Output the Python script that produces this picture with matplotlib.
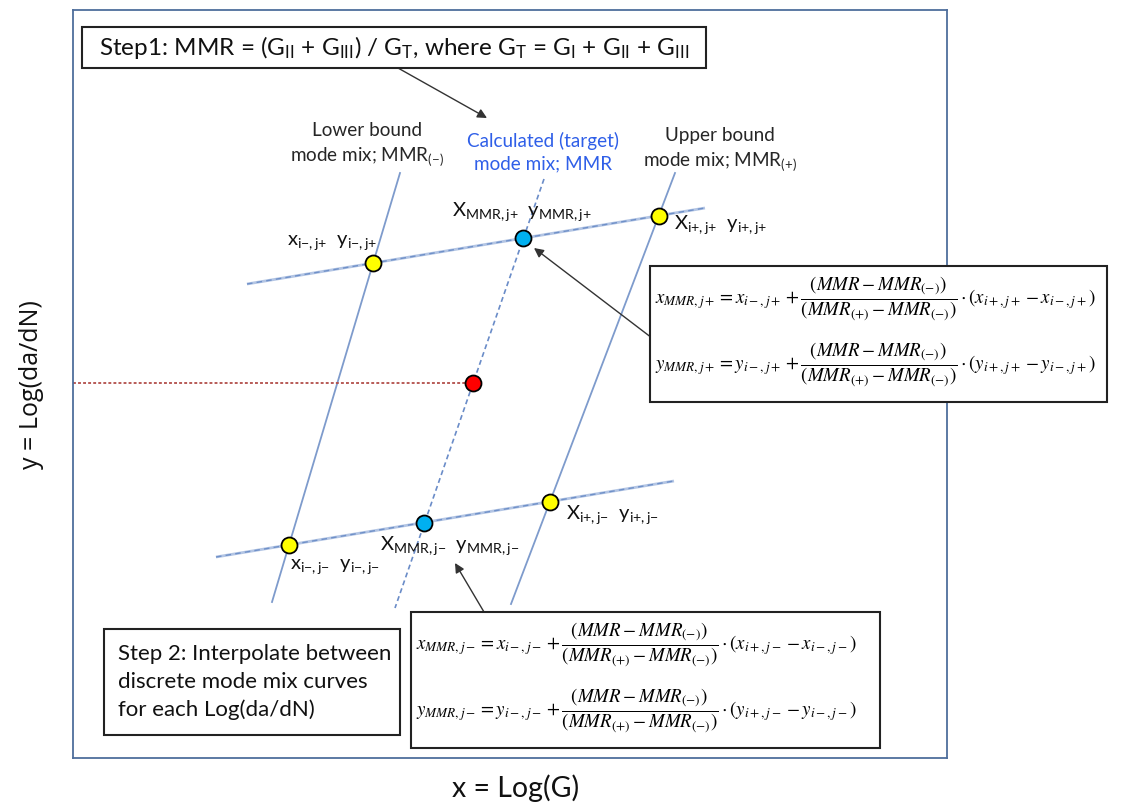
import matplotlib
matplotlib.use("Agg")
import matplotlib.pyplot as plt
from matplotlib.patches import Rectangle

plt.rcParams["font.family"] = ["Lato", "DejaVu Sans"]
plt.rcParams["mathtext.fontset"] = "custom"
plt.rcParams["mathtext.rm"] = "Lato"
plt.rcParams["mathtext.it"] = "Lato:italic"
plt.rcParams["mathtext.bf"] = "Lato:bold"

# ---- diagram data (x = Log(G), y = Log(da/dN), arbitrary units) ----
# discrete mode-mix curves: lower bound, target (interpolated), upper bound
lower_bound_x = [3.27, 1.99]
lower_bound_y = [5.85, 1.56]
target_x = [4.71, 3.22]
target_y = [5.79, 1.50]
upper_bound_x = [6.02, 4.38]
upper_bound_y = [5.85, 1.54]

# constant crack-growth-rate levels j+ and j-
level_jp_x = [1.74, 6.32]
level_jp_y = [4.74, 5.50]
level_jm_x = [1.43, 6.01]
level_jm_y = [2.01, 2.77]

# intersection points on the bound curves
bound_pts_x = [3.00, 5.86, 2.16, 4.77]
bound_pts_y = [4.95, 5.42, 2.13, 2.56]
# interpolated target points
target_pts_x = [4.50, 3.51]
target_pts_y = [5.20, 2.35]
# final interpolated point at the requested Log(da/dN)
result_x = 4.00
result_y = 3.75

XLIM = (0, 8.74)
YLIM = (0, 7.48)

fig = plt.figure(figsize=(11.22, 8.08), dpi=100)
ax = fig.add_axes([73 / 1122, 50 / 808, 874 / 1122, 748 / 808])
ax.set_xlim(*XLIM)
ax.set_ylim(*YLIM)
ax.set_xticks([])
ax.set_yticks([])
for sp in ax.spines.values():
    sp.set_color("#4e6e9c")
    sp.set_linewidth(1.3)

line_col = "#7e9bcc"
# bound curves
ax.plot(lower_bound_x, lower_bound_y, color=line_col, lw=1.3, zorder=2)
ax.plot(upper_bound_x, upper_bound_y, color=line_col, lw=1.3, zorder=2)
ax.plot(target_x, target_y, color="#6a8cc8", lw=1.2, ls=(0, (3, 2)), zorder=2)
# da/dN levels
for lx, ly in [(level_jp_x, level_jp_y), (level_jm_x, level_jm_y)]:
    ax.plot(lx, ly, color="#b3c5e4", lw=2.0, zorder=2, solid_capstyle="butt")
    ax.plot(lx, ly, color="#6f90c8", lw=1.0, ls=(0, (4, 3)), zorder=2)

# horizontal guide to the y axis
ax.plot([XLIM[0], result_x], [result_y, result_y], color="#b24e4a", lw=1.3,
        ls=(0, (1.6, 1.2)), zorder=2)

ms = 11.5
ax.plot(bound_pts_x, bound_pts_y, "o", ms=ms, mfc="#ffff00", mec="black", mew=1.3, zorder=5)
ax.plot(target_pts_x, target_pts_y, "o", ms=ms, mfc="#00b0f0", mec="black", mew=1.3, zorder=5)
ax.plot([result_x], [result_y], "o", ms=ms, mfc="#ff0000", mec="black", mew=1.3, zorder=5)

# ---- curve captions ----
cap_fs = 13.6
ax.text(2.94, 6.13, "Lower bound\nmode mix; MMR$_{\\mathrm{({-})}}$", ha="center", va="center",
        fontsize=cap_fs, linespacing=1.35, color="#262626")
ax.text(4.70, 6.06, "Calculated (target)\nmode mix; MMR", ha="center", va="center",
        fontsize=cap_fs, linespacing=1.35, color="#2f5fe8")
ax.text(6.47, 6.08, "Upper bound\nmode mix; MMR$_{\\mathrm{({+})}}$", ha="center", va="center",
        fontsize=cap_fs, linespacing=1.35, color="#262626")

# ---- point labels ----
lab_fs = 14.5
pt_labels = [
    (2.14, 5.15, r"x$_{\mathrm{i{-},j{+}}}$  y$_{\mathrm{i{-},j{+}}}$"),
    (3.79, 5.46, r"X$_{\mathrm{MMR,j{+}}}$  y$_{\mathrm{MMR,j{+}}}$"),
    (6.01, 5.33, r"X$_{\mathrm{i{+},j{+}}}$  y$_{\mathrm{i{+},j{+}}}$"),
    (4.93, 2.43, r"X$_{\mathrm{i{+},j{-}}}$  y$_{\mathrm{i{+},j{-}}}$"),
    (3.07, 2.12, r"X$_{\mathrm{MMR,j{-}}}$  y$_{\mathrm{MMR,j{-}}}$"),
    (2.17, 1.91, r"x$_{\mathrm{i{-},j{-}}}$  y$_{\mathrm{i{-},j{-}}}$"),
]
for tx, ty, s in pt_labels:
    ax.text(tx, ty, s, ha="left", va="center", fontsize=lab_fs, color="#111111", zorder=6)

# ---- Step 1 box ----
ax.add_patch(Rectangle((0.09, 6.90), 6.24, 0.41, facecolor="white", edgecolor="#222222",
                       lw=1.5, zorder=6, clip_on=False))
ax.text(3.21, 7.105,
        r"Step1: MMR = (G$_{\mathrm{II}}$ + G$_{\mathrm{III}}$) / G$_{\mathrm{T}}$, where "
        r"G$_{\mathrm{T}}$ = G$_{\mathrm{I}}$ + G$_{\mathrm{II}}$ + G$_{\mathrm{III}}$",
        ha="center", va="center", fontsize=17.5, color="#111111", zorder=7)

# ---- Step 2 box ----
ax.add_patch(Rectangle((0.31, 0.23), 2.96, 1.06, facecolor="white", edgecolor="#222222",
                       lw=1.5, zorder=6, clip_on=False))
ax.text(0.45, 0.76, "Step 2: Interpolate between\ndiscrete mode mix curves\nfor each Log(da/dN)",
        ha="left", va="center", fontsize=16, linespacing=1.5, color="#111111", zorder=7)

# ---- interpolation formulas ----
def formula(v, sgn):
    return (r"$%s_{MMR,j%s} = %s_{i-,j%s} + \dfrac{(MMR - MMR_{(-)})}{(MMR_{(+)} - MMR_{(-)})}"
            r"\cdot\left(%s_{i+,j%s} - %s_{i-,j%s}\right)$" % (v, sgn, v, sgn, v, sgn, v, sgn))

f_fs = 13.6
ax.add_patch(Rectangle((5.77, 3.56), 4.57, 1.36, facecolor="white", edgecolor="#222222",
                       lw=1.5, zorder=6, clip_on=False))
ax.text(5.82, 4.60, formula("x", "+"), ha="left", va="center", fontsize=f_fs,
        math_fontfamily="stix", zorder=7, clip_on=False)
ax.text(5.82, 3.94, formula("y", "+"), ha="left", va="center", fontsize=f_fs,
        math_fontfamily="stix", zorder=7, clip_on=False)

ax.add_patch(Rectangle((3.38, 0.10), 4.69, 1.36, facecolor="white", edgecolor="#222222",
                       lw=1.5, zorder=6, clip_on=False))
ax.text(3.43, 1.14, formula("x", "-"), ha="left", va="center", fontsize=f_fs,
        math_fontfamily="stix", zorder=7, clip_on=False)
ax.text(3.43, 0.48, formula("y", "-"), ha="left", va="center", fontsize=f_fs,
        math_fontfamily="stix", zorder=7, clip_on=False)

# ---- arrows ----
arrow_kw = dict(arrowstyle="-|>", color="#333333", lw=1.0, mutation_scale=14,
                shrinkA=0, shrinkB=0)
ax.annotate("", xy=(4.14, 6.40), xytext=(3.25, 6.90), arrowprops=arrow_kw, zorder=4)
ax.annotate("", xy=(4.61, 5.10), xytext=(5.79, 4.20), arrowprops=arrow_kw, zorder=4)
ax.annotate("", xy=(3.82, 1.95), xytext=(4.11, 1.46), arrowprops=arrow_kw, zorder=4)

# ---- axis titles ----
fig.text(516 / 1122, 1 - 788 / 808, "x = Log(G)", ha="center", va="center", fontsize=20.5,
         color="#111111")
fig.text(32 / 1122, 1 - 385 / 808, "y = Log(da/dN)", ha="center", va="center", fontsize=18,
         rotation=90, color="#111111", family=["Open Sans", "DejaVu Sans"])

fig.savefig("out.png", dpi=100, facecolor="white")
